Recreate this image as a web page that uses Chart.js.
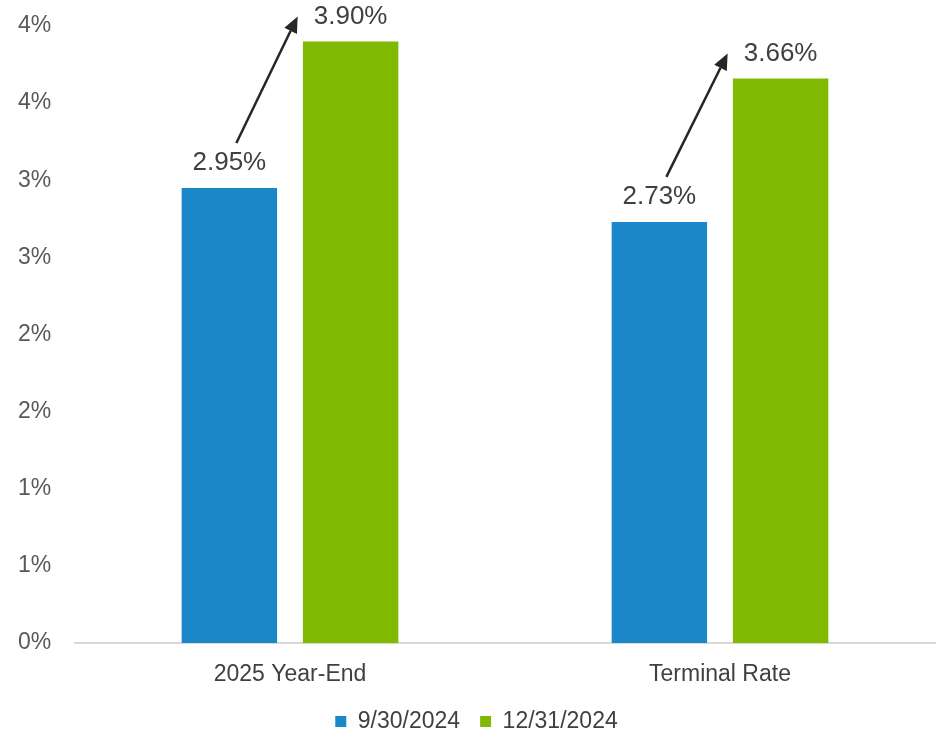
<!DOCTYPE html>
<html>
<head>
<meta charset="utf-8">
<script src="https://cdn.jsdelivr.net/npm/chart.js@4/dist/chart.umd.min.js"></script>
<style>
  body { margin: 0; background: #fff; }
  #wrap { width: 942px; height: 733px; }
</style>
</head>
<body>
<div id="wrap"><canvas id="myChart" width="942" height="733"></canvas></div>
<script>
var categorias = ['2025 Year-End', 'Terminal Rate'];
var serieSep = [2.95, 2.73];
var serieDic = [3.90, 3.66];
var nombresSeries = ['9/30/2024', '12/31/2024'];
var etiquetasEje = [0, 0.5, 1, 1.5, 2, 2.5, 3, 3.5, 4];

var fuente = '"Liberation Sans", Arial, sans-serif';

// etiquetas de valor encima de cada barra
var etiquetasPlugin = {
    id: 'etiquetas',
    afterDatasetsDraw: function (chart) {
        var ctx = chart.ctx;
        ctx.save();
        ctx.font = '26px ' + fuente;
        ctx.fillStyle = '#404040';
        ctx.textAlign = 'center';
        ctx.textBaseline = 'bottom';
        chart.data.datasets.forEach(function (ds, i) {
            chart.getDatasetMeta(i).data.forEach(function (bar, j) {
                ctx.fillText(ds.data[j].toFixed(2) + '%', bar.x, bar.y - 12);
            });
        });
        ctx.restore();
    }
};

// flechas entre la etiqueta azul y la verde
var flechasPlugin = {
    id: 'flechas',
    afterDatasetsDraw: function (chart) {
        var ctx = chart.ctx;
        var azul = chart.getDatasetMeta(0).data;
        var verde = chart.getDatasetMeta(1).data;
        ctx.save();
        ctx.strokeStyle = '#262626';
        ctx.fillStyle = '#262626';
        ctx.lineWidth = 2.5;
        for (var i = 0; i < azul.length; i++) {
            var x0 = azul[i].x + 7, y0 = azul[i].y - 45;
            var x1 = verde[i].x - 53, y1 = verde[i].y - 25;
            var ang = Math.atan2(y1 - y0, x1 - x0);
            var largo = 16, ancho = 7;
            var bx = x1 - largo * Math.cos(ang), by = y1 - largo * Math.sin(ang);
            ctx.beginPath();
            ctx.moveTo(x0, y0);
            ctx.lineTo(bx, by);
            ctx.stroke();
            ctx.beginPath();
            ctx.moveTo(x1, y1);
            ctx.lineTo(bx + ancho * Math.sin(ang), by - ancho * Math.cos(ang));
            ctx.lineTo(bx - ancho * Math.sin(ang), by + ancho * Math.cos(ang));
            ctx.closePath();
            ctx.fill();
        }
        ctx.restore();
    }
};

var ctx = document.getElementById('myChart').getContext('2d');
var myChart = new Chart(ctx, {
    type: 'bar',
    data: {
        labels: categorias,
        datasets: [{
            label: nombresSeries[0],
            data: serieSep,
            backgroundColor: '#1a87c9'
        }, {
            label: nombresSeries[1],
            data: serieDic,
            backgroundColor: '#80ba00'
        }]
    },
    options: {
        responsive: false,
        animation: false,
        categoryPercentage: 0.564,
        barPercentage: 0.787,
        layout: { padding: { top: 26, left: 18, right: 7, bottom: 0 } },
        scales: {
            x: {
                grid: { drawOnChartArea: false, drawTicks: false },
                border: { color: '#d9d9d9', width: 2 },
                ticks: {
                    color: '#404040',
                    padding: 18,
                    font: { size: 23, family: fuente }
                },
                afterFit: function (axis) { axis.height = 47; }
            },
            y: {
                min: 0,
                max: 4,
                afterBuildTicks: function (axis) {
                    axis.ticks = etiquetasEje.map(function (v) { return { value: v }; });
                },
                afterFit: function (axis) { axis.width = 57; },
                grid: { display: false, drawTicks: false },
                border: { display: false },
                ticks: {
                    color: '#595959',
                    padding: 4,
                    crossAlign: 'far',
                    font: { size: 23, family: fuente },
                    callback: function (v) { return Math.round(v) + '%'; }
                }
            }
        },
        plugins: {
            legend: {
                position: 'bottom',
                maxHeight: 43,
                labels: {
                    boxWidth: 11,
                    boxHeight: 11,
                    padding: 20,
                    color: '#404040',
                    font: { size: 23, family: fuente }
                }
            },
            tooltip: { enabled: false }
        }
    },
    plugins: [etiquetasPlugin, flechasPlugin]
});
</script>
</body>
</html>
